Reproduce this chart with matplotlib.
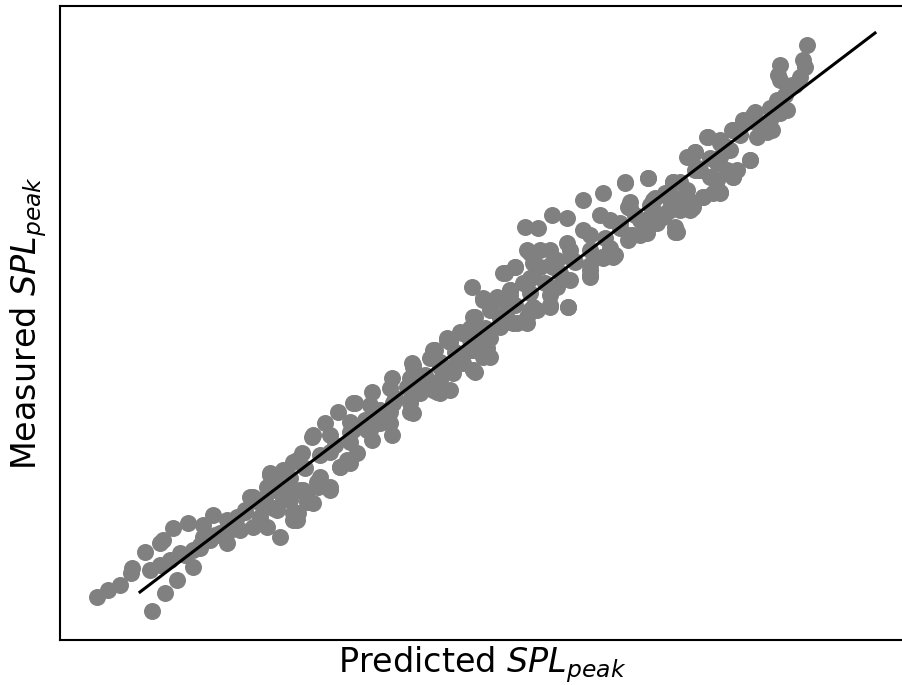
import matplotlib
matplotlib.use("Agg")
import matplotlib.pyplot as plt
import numpy as np

# ---- data (arbitrary units) ----
pred_A = [97,108,120,131,132,145,160,152,165,177, 193,173,188,213,237,253,267,280,293,267, 280,313,317,150,160,170,185,200,210,220, 230,245,265]
meas_A = [43,50,55,67,72,88,97,29,47,60, 73,112,117,125,123,140,113,103,120,153, 165,137,158,70,75,80,85,92,100,105, 110,130,140]

pred_B = [203,227,250,253,270,293,302,313,325,297, 307,300,318,330,290,340,347,353,193,180, 163,203,220,227,240,260,277,287]
meas_B = [115,120,143,113,167,178,187,205,217,120, 138,150,153,150,140,173,180,210,90,87, 100,103,107,97,110,123,130,150]

pred_C = [253,270,283,297,312,338,355,372,392,413, 392,372,350,357,330,293,273,303,320,340, 367,380,410,437,453,473,440,393,420,260, 283,298,307]
meas_C = [143,165,170,180,203,228,237,248,262,273, 205,200,177,187,153,127,132,150,163,173, 210,217,228,248,267,270,260,237,247,137, 140,127,142]

pred_D = [353,412,435,447,462,473,483,497,513,527, 537,487,490,473,450,433,413,390,373,393, 423,440,457,473,480]
meas_D = [237,277,290,302,307,323,342,343,317,317, 330,292,283,270,250,250,227,217,227,237, 260,273,283,290,310]

pred_E = [472,503,515,530,550,568,590,590,603,615, 413,433,447,460,475,483,497,510,523,533, 540,557,570,517,527,533,480,475,463,453, 437,420,407,410,440,487,500,483]
meas_E = [353,367,373,387,335,333,363,370,382,385, 275,290,300,308,323,340,340,350,357,363, 373,380,383,317,323,333,297,268,277,270, 257,263,253,237,247,310,313,283]

pred_F = [525,538,552,567,583,603,625,648,673,527, 540,550,505,515,590,602,613,628,640,677, 550,568,510,527,557,600,630,653,670,690, 713,700,727,717,567,583,573,533,553,507]
meas_F = [413,412,425,422,440,447,457,462,458,390, 390,390,367,373,365,383,383,400,405,408, 333,333,350,357,353,425,432,440,430,430, 447,470,470,460,397,410,380,377,373,330]

pred_G = [625,648,673,655,628,620,633,647,675,663, 680,693,703,720,733,697,695,708,720,732, 743,753,767,770,780,750,737,720,710,687, 670,653,640,687]
meas_G = [458,462,458,442,433,417,405,407,408,423, 430,433,443,448,463,470,488,503,497,510, 518,525,508,520,527,480,470,483,463,450, 440,430,420,483]

pred_H = [807,780,778,780,803,805,800,792,777,773, 787,755,743,733,772,757,750,707,720,695, 730,717,698,733,720,673,687,703,692,667, 650,675,657]
meas_H = [595,575,565,560,580,573,563,555,540,530, 530,528,520,510,510,503,480,503,500,488, 490,477,472,463,447,443,443,443,432,428, 423,413,417]

pred_core = [200,215,230,245,260,275,290,305,320,335, 350,365,380,395,410,425,440,455,470,485, 500,515,530,545,560,575,590,605,620,635, 650,665,680,695,710,725,740,755,770,785, 795]
meas_core = [95,105,115,128,140,150,162,172,185,195, 208,220,230,242,254,265,278,288,300,312, 322,335,347,357,367,378,390,402,412,425, 435,447,458,470,482,494,505,518,532,545, 555]

pred_upper = [330,350,370,390,410,430,450,470,490,510, 530,550,570,590,610,630]
meas_upper = [205,218,235,252,262,282,298,312,330,345, 362,375,390,405,420,438]

pred_lower = [330,350,370,390,410,430,450,470,490,510, 530,550,570,590,610,630,650]
meas_lower = [188,198,210,228,240,256,272,290,302,318, 330,345,360,375,392,405,418]

fit_x = [140, 875]
fit_y = [48, 607]

predicted = np.concatenate([pred_A, pred_B, pred_C, pred_D, pred_E, pred_F, pred_G,
                            pred_H, pred_core, pred_upper, pred_lower])
measured = np.concatenate([meas_A, meas_B, meas_C, meas_D, meas_E, meas_F, meas_G,
                           meas_H, meas_core, meas_upper, meas_lower])

fig = plt.figure(figsize=(9.02, 6.85), dpi=100)
ax = fig.add_axes([60/902, 45/685, (904-60)/902, 634/685])
ax.scatter(predicted, measured, s=150, color='gray', linewidths=0, zorder=2)
ax.plot(fit_x, fit_y, color='black', lw=2.2, zorder=3)
ax.set_xlim(60, 904)
ax.set_ylim(0, 634)
ax.set_xticks([])
ax.set_yticks([])
for sp in ax.spines.values():
    sp.set_linewidth(1.5)
ax.set_xlabel(r'Predicted $SPL_{peak}$', fontsize=24, labelpad=3)
ax.set_ylabel(r'Measured $SPL_{peak}$', fontsize=24, labelpad=8)
fig.savefig('out.png', dpi=100)
